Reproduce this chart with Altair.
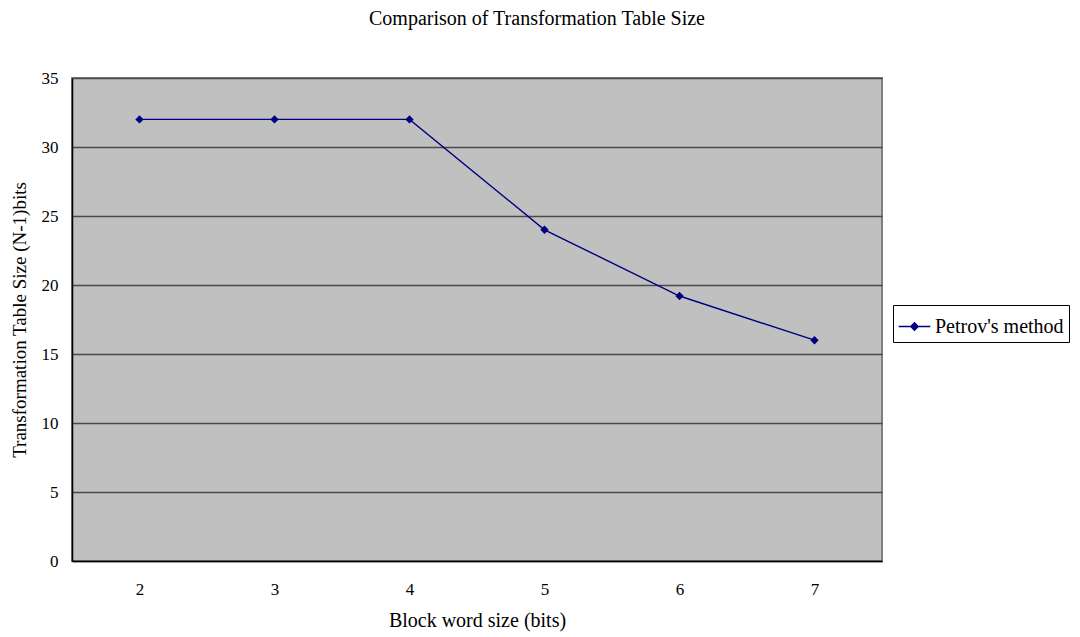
import altair as alt
import pandas as pd

# Block word sizes and the resulting transformation table sizes
block_sizes = ["2", "3", "4", "5", "6", "7"]
table_sizes = [32, 32, 32, 24, 19.2, 16]
series_name = "Petrov's method"

df = pd.DataFrame({
    "block": block_sizes,
    "size": table_sizes,
    "series": [series_name] * len(block_sizes),
})

FONT = "Liberation Serif"
NAVY = "#000080"

x_enc = alt.X(
    "block:O",
    sort=block_sizes,
    scale=alt.Scale(type="band", paddingInner=0, paddingOuter=0),
    axis=alt.Axis(
        title="Block word size (bits)",
        titleFontSize=20,
        labelAngle=0,
        tickBand="extent",
        grid=False,
        domainColor="black",
        domainWidth=1.5,
        tickColor="#333333",
        tickSize=0,
        labelPadding=20,
        titlePadding=13,
    ),
)
y_enc = alt.Y(
    "size:Q",
    scale=alt.Scale(domain=[0, 35], nice=False),
    axis=alt.Axis(
        title="Transformation Table Size (N-1)bits",
        titleFontSize=19,
        values=[0, 5, 10, 15, 20, 25, 30, 35],
        grid=True,
        gridColor="#4a4a4a",
        gridWidth=1.5,
        domainColor="black",
        domainWidth=1.5,
        tickSize=0,
        labelPadding=14,
        titlePadding=12,
    ),
)
color_enc = alt.Color(
    "series:N",
    scale=alt.Scale(domain=[series_name], range=[NAVY]),
    legend=alt.Legend(
        title=None,
        orient="none",
        legendX=821,
        legendY=227,
        symbolType="M-1,0H1M0,-0.24L0.24,0L0,0.24L-0.24,0Z",
        symbolSize=1000,
        symbolFillColor=NAVY,
        symbolStrokeColor=NAVY,
        symbolStrokeWidth=1.3,
        labelFont=FONT,
        labelFontSize=20,
        labelColor="black",
        strokeColor="black",
        padding=5,
        labelOffset=4,
    ),
)

line = alt.Chart(df).mark_line(color=NAVY, strokeWidth=1.4).encode(
    x=x_enc, y=y_enc, color=color_enc
)
points = alt.Chart(df).mark_point(
    shape="diamond", filled=True, size=70, color=NAVY, opacity=1
).encode(x="block:O", y="size:Q")

chart = (
    alt.layer(line, points)
    .properties(
        width=810,
        height=483,
        padding={"left": 72, "top": 78, "right": 198, "bottom": 76},
        autosize=alt.AutoSizeParams(type="none"),
        title=alt.TitleParams(
            "Comparison of Transformation Table Size",
            font=FONT,
            fontSize=20,
            fontWeight="normal",
            color="black",
            anchor="middle",
            dx=60,
            offset=40,
        ),
    )
    .configure(background="white")
    .configure_view(fill="#C0C0C0", stroke="#808080", strokeWidth=2)
    .configure_axis(
        labelFont=FONT,
        labelFontSize=17,
        labelColor="black",
        titleFont=FONT,
        titleFontWeight="normal",
        titleColor="black",
    )
)

chart.save("out.html", embed_options={"renderer": "svg", "actions": False})
